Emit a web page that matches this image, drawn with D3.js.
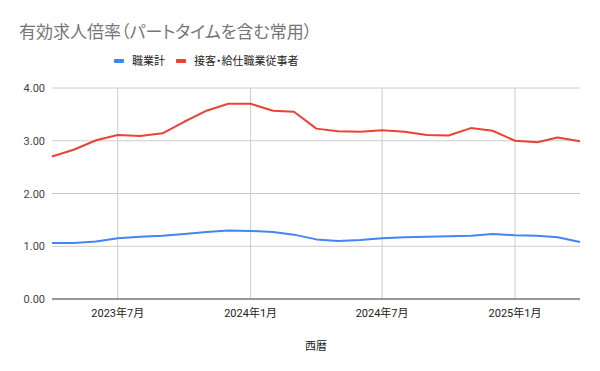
<!DOCTYPE html>
<html>
<head>
<meta charset="utf-8">
<script src="https://cdn.jsdelivr.net/npm/d3@7"></script>
<style>
  body { margin: 0; background: #fff; }
  text { font-family: Roboto, "Noto Sans CJK JP", sans-serif; }
</style>
</head>
<body>
<svg></svg>
<script>
var width = 600;
var height = 371;

var months = ["2023-04", "2023-05", "2023-06", "2023-07", "2023-08", "2023-09", "2023-10", "2023-11", "2023-12",
              "2024-01", "2024-02", "2024-03", "2024-04", "2024-05", "2024-06", "2024-07", "2024-08", "2024-09",
              "2024-10", "2024-11", "2024-12", "2025-01", "2025-02", "2025-03", "2025-04"];
var allJobs = [1.06, 1.06, 1.09, 1.15, 1.18, 1.20, 1.23, 1.27, 1.30, 1.29, 1.27, 1.22, 1.13,
               1.10, 1.12, 1.15, 1.17, 1.18, 1.19, 1.20, 1.23, 1.21, 1.20, 1.17, 1.08];
var serviceJobs = [2.70, 2.83, 3.01, 3.11, 3.09, 3.14, 3.36, 3.57, 3.70, 3.70, 3.57, 3.55, 3.23,
                   3.18, 3.17, 3.20, 3.17, 3.11, 3.10, 3.24, 3.19, 3.00, 2.97, 3.06, 2.99];
var seriesNames = ["職業計", "接客・給仕職業従事者"];
var seriesColors = ["#4285f4", "#ea4335"];
var yTicks = [0, 1, 2, 3, 4];
var xTicks = ["2023-07", "2024-01", "2024-07", "2025-01"];

var parse = d3.timeParse("%Y-%m");
var dates = months.map(parse);

var margin = {left: 52, right: 20, top: 88, bottom: 72};

var x = d3.scaleTime()
          .domain(d3.extent(dates))
          .range([margin.left, width - margin.right]);
var y = d3.scaleLinear()
          .domain([0, 4])
          .range([height - margin.bottom, margin.top]);

var svg = d3.select("svg")
            .attr("width", width)
            .attr("height", height);

svg.append("text")
    .attr("x", 19)
    .attr("y", 38)
    .style("font-size", "17px")
    .style("font-feature-settings", "'palt'")
    .style("fill", "#757575")
    .text("有効求人倍率（パートタイムを含む常用）");

// horizontal grid + y labels
svg.append("g")
    .selectAll("line")
    .data(yTicks.slice(1))
    .join("line")
        .attr("x1", margin.left)
        .attr("x2", width - margin.right)
        .attr("y1", d => y(d))
        .attr("y2", d => y(d))
        .style("stroke", "#cccccc");

svg.append("g")
    .selectAll("text")
    .data(yTicks)
    .join("text")
        .attr("x", 45)
        .attr("y", d => y(d) + 4)
        .style("text-anchor", "end")
        .style("font-size", "11px")
        .style("fill", "#444")
        .text(d => d3.format(".2f")(d));

// vertical grid + x labels
svg.append("g")
    .selectAll("line")
    .data(xTicks)
    .join("line")
        .attr("x1", d => x(parse(d)))
        .attr("x2", d => x(parse(d)))
        .attr("y1", margin.top)
        .attr("y2", height - margin.bottom)
        .style("stroke", "#cccccc");

svg.append("g")
    .selectAll("text")
    .data(xTicks)
    .join("text")
        .attr("x", d => x(parse(d)))
        .attr("y", 317)
        .style("text-anchor", "middle")
        .style("font-size", "11px")
        .style("fill", "#222")
        .text(d => d3.timeFormat("%Y年%-m月")(parse(d)));

svg.append("line")
    .attr("x1", margin.left)
    .attr("x2", width - margin.right)
    .attr("y1", y(0))
    .attr("y2", y(0))
    .style("stroke", "#333");

svg.append("text")
    .attr("x", 316)
    .attr("y", 350)
    .style("text-anchor", "middle")
    .style("font-size", "11px")
    .style("fill", "#222")
    .text("西暦");

var line = d3.line()
             .x((d, i) => x(dates[i]))
             .y(d => y(d));

[allJobs, serviceJobs].forEach(function(vals, i) {
    svg.append("path")
        .datum(vals)
        .attr("d", line)
        .style("fill", "none")
        .style("stroke", seriesColors[i])
        .style("stroke-width", 2)
        .style("stroke-linejoin", "round");
});

// legend
var legendX = [114, 176];
seriesNames.forEach(function(name, i) {
    var g = svg.append("g").attr("transform", "translate(" + legendX[i] + ", 61)");
    g.append("rect")
        .attr("x", 0)
        .attr("y", -2)
        .attr("width", 10)
        .attr("height", 4)
        .attr("rx", 1)
        .style("fill", seriesColors[i]);
    g.append("text")
        .attr("x", 18)
        .attr("y", 4)
        .style("font-size", "11px")
        .style("font-feature-settings", "'palt'")
        .style("fill", "#222")
        .text(name);
});
</script>
</body>
</html>
